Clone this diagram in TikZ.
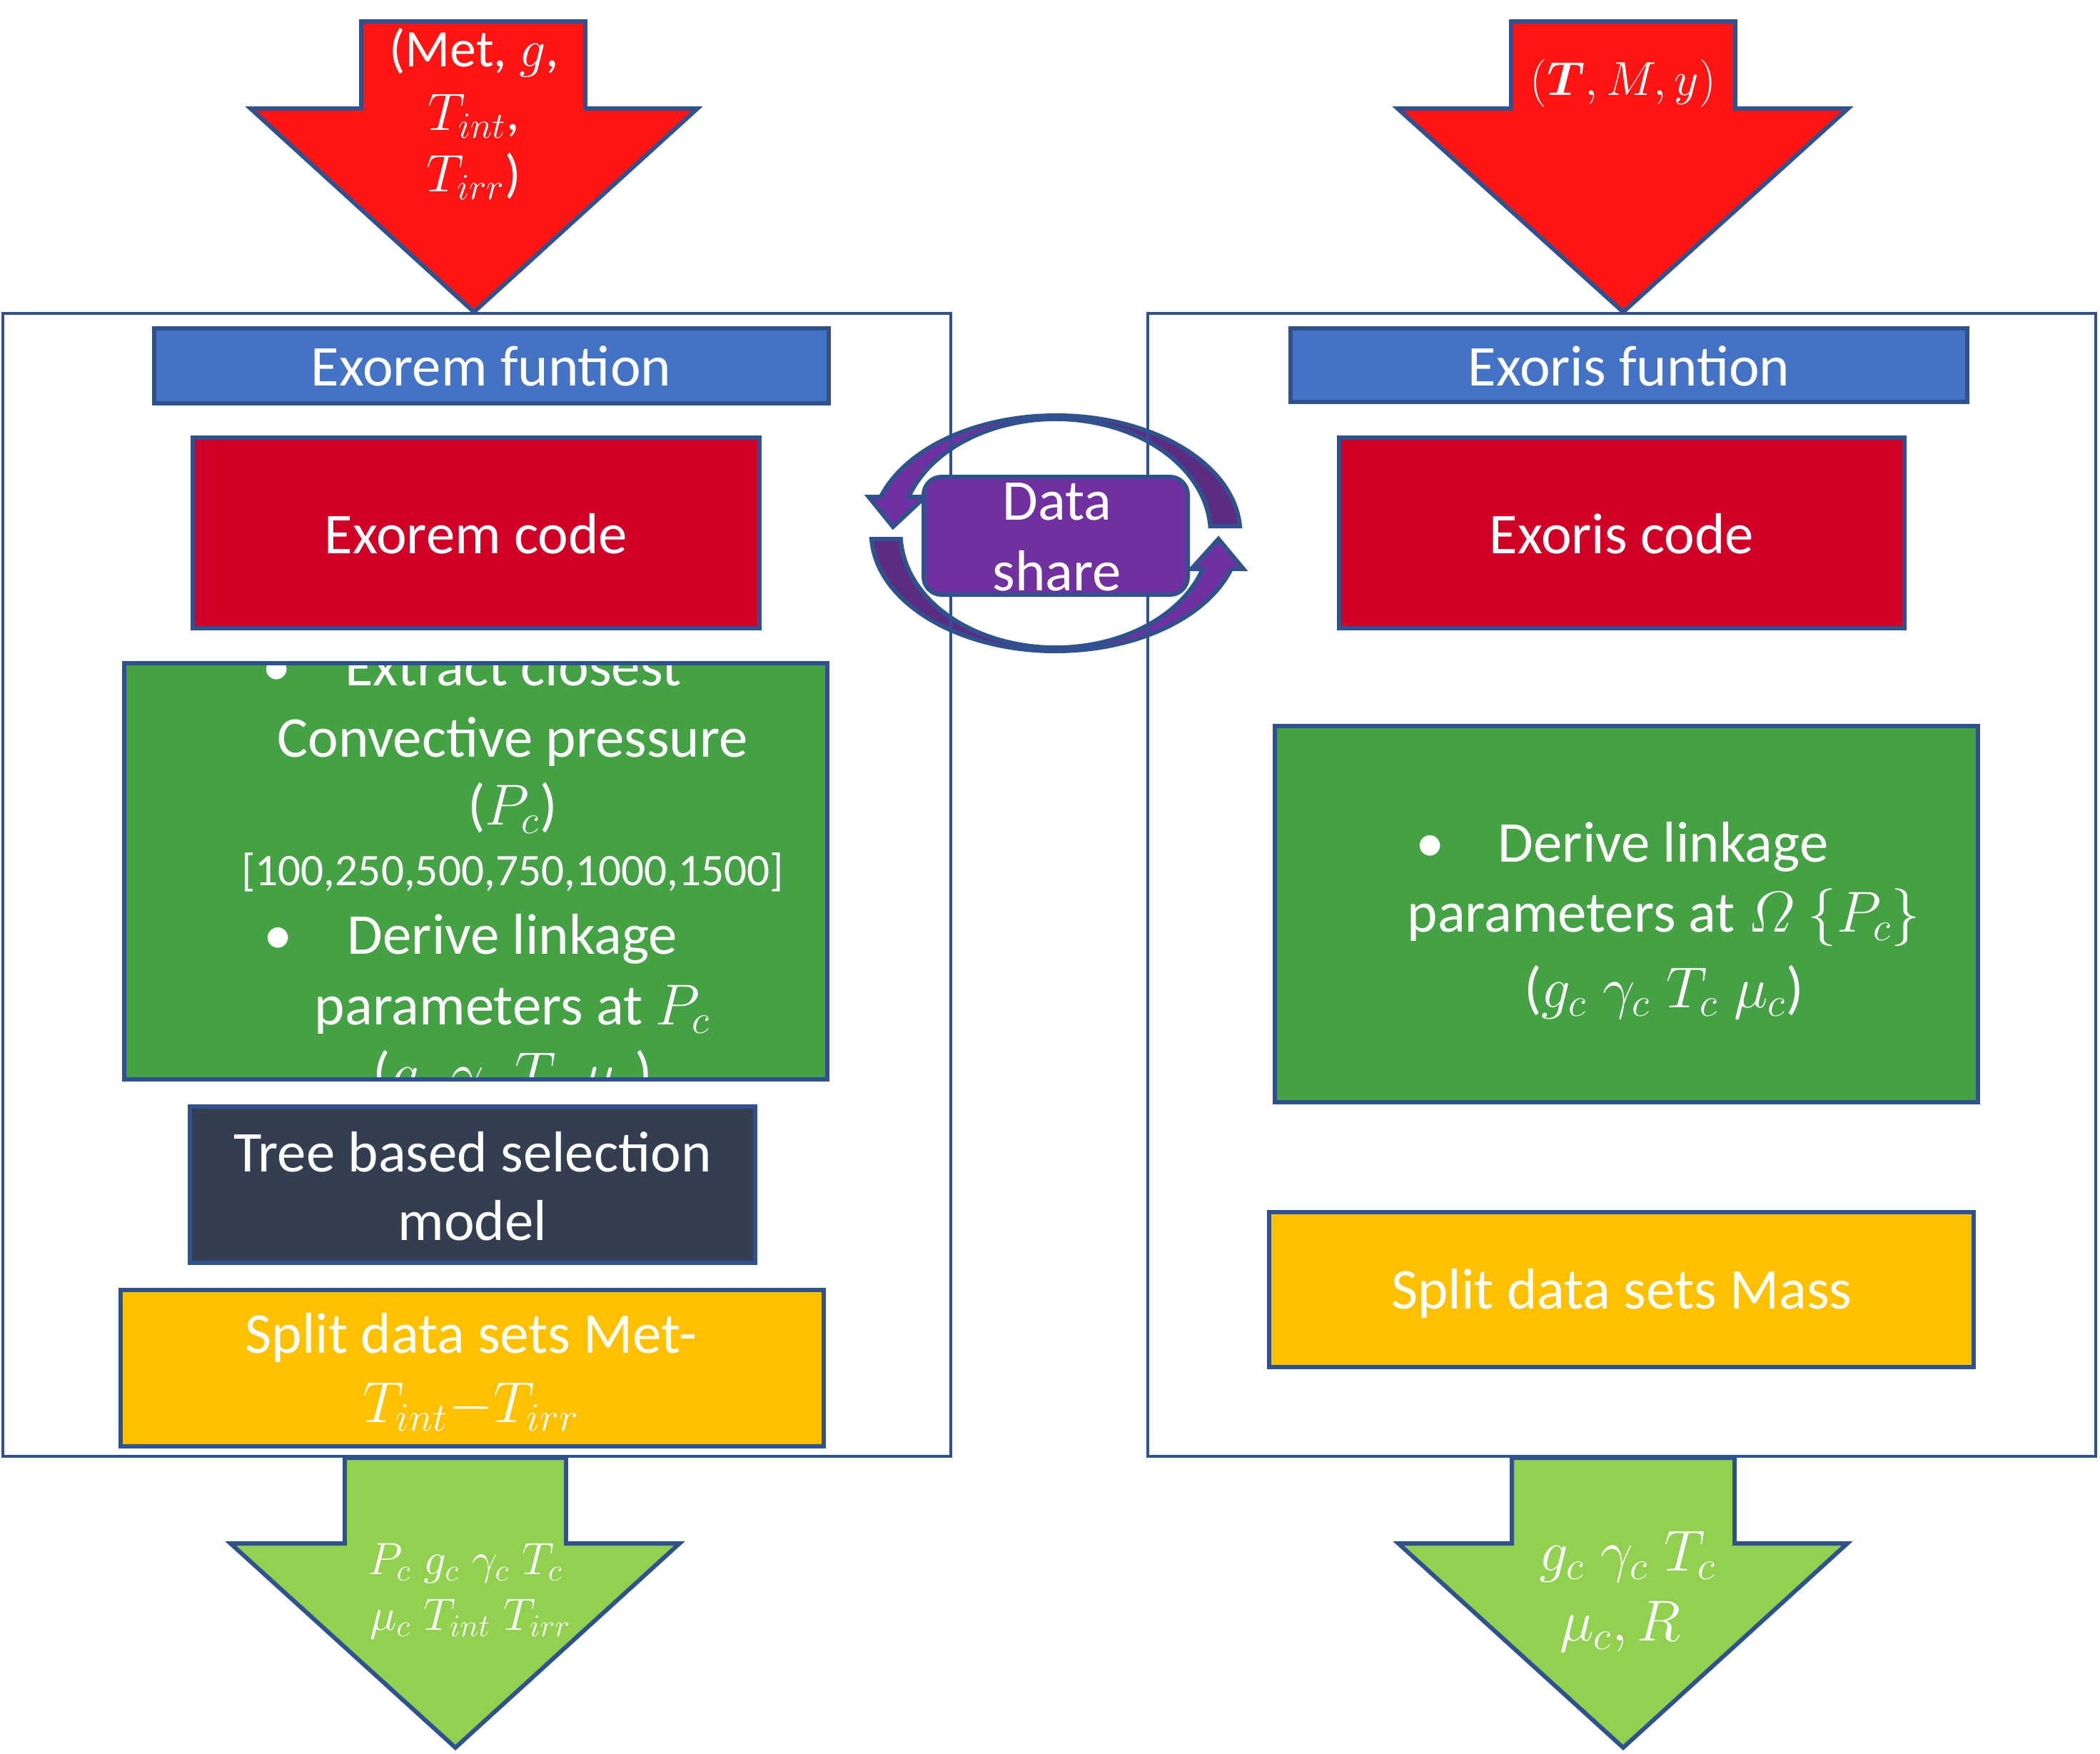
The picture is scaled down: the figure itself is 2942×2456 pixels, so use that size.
\documentclass[tikz,border=0pt]{standalone}
\usepackage{fix-cm}
\usepackage{amsmath}
\usepackage{fontspec}
\setmainfont{Carlito}
\usetikzlibrary{fit}
\definecolor{olc}{HTML}{2F528F}
\definecolor{blueb}{HTML}{4472C4}
\definecolor{redc}{HTML}{D00026}
\definecolor{greenb}{HTML}{44A244}
\definecolor{darkb}{HTML}{333F50}
\definecolor{orangeb}{HTML}{FFC000}
\definecolor{reda}{HTML}{FF1414}
\definecolor{greena}{HTML}{92D050}
\definecolor{purl}{HTML}{7030A0}
\definecolor{purd}{HTML}{5A2D82}
\begin{document}
\begin{tikzpicture}[x=0.01cm,y=-0.01cm,
  shp/.style={draw=olc, line width=1.7pt, line join=miter},
  boxn/.style={shp, inner sep=0pt, rectangle},
  frame/.style={draw=olc, line width=1.3pt},
  tx/.style={text=white, inner sep=0pt, anchor=base, font=\fontsize{23}{28}\selectfont},
  txs/.style={tx, font=\fontsize{18}{22}\selectfont},
  txa/.style={tx, font=\fontsize{21}{25}\selectfont},
  txb/.style={tx, font=\fontsize{19}{23}\selectfont}]
\useasboundingbox (0,0) rectangle (2942,2456);

% ---- circular data-share arrows ----
\fill[purl] (1737,737) arc[start angle=3.5, end angle=162, x radius=2.58cm, y radius=1.65cm] -- (1217,696) -- (1251,738) -- (1296,696) -- (1273,696) arc[start angle=161.4, end angle=3.6, x radius=2.17cm, y radius=1.60cm] -- cycle;
\fill[purd] (1737,737) arc[start angle=3.5, end angle=80, x radius=2.58cm, y radius=1.65cm] -- (1517,589) arc[start angle=80, end angle=3.6, x radius=2.17cm, y radius=1.60cm] -- cycle;
\draw[shp] (1737,737) arc[start angle=3.5, end angle=162, x radius=2.58cm, y radius=1.65cm] -- (1217,696) -- (1251,738) -- (1296,696) -- (1273,696) arc[start angle=161.4, end angle=3.6, x radius=2.17cm, y radius=1.60cm] -- cycle;

\fill[purl] (1221,755) arc[start angle=182.8, end angle=342.4, x radius=2.58cm, y radius=1.65cm] -- (1742,797) -- (1707,755) -- (1669,797) -- (1685,797) arc[start angle=341.8, end angle=182.9, x radius=2.17cm, y radius=1.60cm] -- cycle;
\fill[purd] (1221,755) arc[start angle=182.8, end angle=265, x radius=2.58cm, y radius=1.65cm] -- (1460,906) arc[start angle=265, end angle=182.9, x radius=2.17cm, y radius=1.60cm] -- cycle;
\draw[shp] (1221,755) arc[start angle=182.8, end angle=342.4, x radius=2.58cm, y radius=1.65cm] -- (1742,797) -- (1707,755) -- (1669,797) -- (1685,797) arc[start angle=341.8, end angle=182.9, x radius=2.17cm, y radius=1.60cm] -- cycle;

% ---- outer frames ----
\node[frame, inner sep=0pt, fit={(4,439) (1332,2040)}] (leftframe) {};
\node[frame, inner sep=0pt, fit={(1608,439) (2936,2040)}] (rightframe) {};

% ---- data share box ----
\node[shp, fill=purl, inner sep=0pt, rounded corners=0.25cm, fit={(1294,668) (1664,833)}] (dsbox) {};
\node[tx] (ds1) at (1481,728) {Data};
\node[tx] (ds2) at (1481,827) {share};

% ---- block arrows ----
\draw[shp, fill=reda] (506,30) -- (820,30) -- (820,152) -- (977,152) -- (664,437) -- (351,152) -- (506,152) -- cycle;
\draw[shp, fill=reda] (2117,30) -- (2431,30) -- (2431,152) -- (2589,152) -- (2274,437) -- (1958,152) -- (2117,152) -- cycle;
\draw[shp, fill=greena] (483,2042) -- (793,2042) -- (793,2162) -- (952,2162) -- (638,2448) -- (323,2162) -- (483,2162) -- cycle;
\draw[shp, fill=greena] (2118,2042) -- (2430,2042) -- (2430,2162) -- (2588,2162) -- (2274,2448) -- (1959,2162) -- (2118,2162) -- cycle;

\node[txa] (in1a) at (664,93) {(Met, $g$,};
\node[txa] (in1b) at (664,182) {$T_{int}$,};
\node[txa] (in1c) at (664,268) {$T_{irr}$)};
\node[txb] (in2) at (2274,133) {$(\boldsymbol{T}, M, y)$};
\node[txs] (out1a) at (652,2205) {$P_c\;g_c\;\gamma_c\;T_c$};
\node[txs] (out1b) at (659,2283) {$\mu_c\;T_{int}\;T_{irr}$};
\node[tx] (out2a) at (2280,2200) {$g_c\;\gamma_c\;T_c$};
\node[tx] (out2b) at (2270,2298) {$\mu_c, R$};

% ---- left column ----
\node[boxn, fill=blueb, fit={(216,460) (1161,565)}] (exoremf) {};
\node[tx] (exoremft) at (688,540) {Exorem funtion};
\node[boxn, fill=redc, fit={(270,613) (1064,880)}] (exoremc) {};
\node[tx] (exoremct) at (667,775) {Exorem code};
\node[boxn, fill=greenb, fit={(174,929) (1159,1512)}] (greenl) {};
\begin{scope}
\clip (174,929) rectangle (1159,1512);
\node[tx] (gl0) at (388,960) {\textbullet};
\node[tx] (gl1) at (719,960) {Extract closest};
\node[tx] (gl2) at (718,1060) {Convective pressure};
\node[tx] (gl3) at (718,1155) {($P_c$)};
\node[txs] (gl4) at (718,1240) {[100,250,500,750,1000,1500]};
\node[tx] (gl5) at (390,1336) {\textbullet};
\node[tx] (gl6) at (718,1336) {Derive linkage};
\node[tx] (gl7) at (718,1435) {parameters at $P_c$};
\node[tx] (gl8) at (718,1530) {($g_c\;\gamma_c\;T_c\;\mu_c$)};
\end{scope}
\draw[shp] (174,929) rectangle (1159,1512);
\node[boxn, fill=darkb, fit={(266,1550) (1058,1769)}] (tree) {};
\node[tx] (tree1) at (662,1641) {Tree based selection};
\node[tx] (tree2) at (662,1737) {model};
\node[boxn, fill=orangeb, fit={(169,1807) (1154,2026)}] (orangel) {};
\node[tx] (ol1) at (660,1895) {Split data sets Met-};
\node[tx] (ol2) at (660,1992) {$T_{int}{-}T_{irr}$};

% ---- right column ----
\node[boxn, fill=blueb, fit={(1808,460) (2756,563)}] (exorisf) {};
\node[tx] (exorisft) at (2282,540) {Exoris funtion};
\node[boxn, fill=redc, fit={(1876,613) (2668,880)}] (exorisc) {};
\node[tx] (exorisct) at (2272,775) {Exoris code};
\node[boxn, fill=greenb, fit={(1786,1017) (2771,1544)}] (greenr) {};
\node[tx] (gr0) at (2004,1207) {\textbullet};
\node[tx] (gr1) at (2330,1207) {Derive linkage};
\node[tx] (gr2) at (2331,1305) {parameters at $\varOmega\ \{P_c\}$};
\node[tx] (gr3) at (2331,1411) {($g_c\;\gamma_c\;T_c\;\mu_c$)};
\node[boxn, fill=orangeb, fit={(1778,1698) (2765,1915)}] (oranger) {};
\node[tx] (or1) at (2272,1833) {Split data sets Mass};
\end{tikzpicture}
\end{document}
